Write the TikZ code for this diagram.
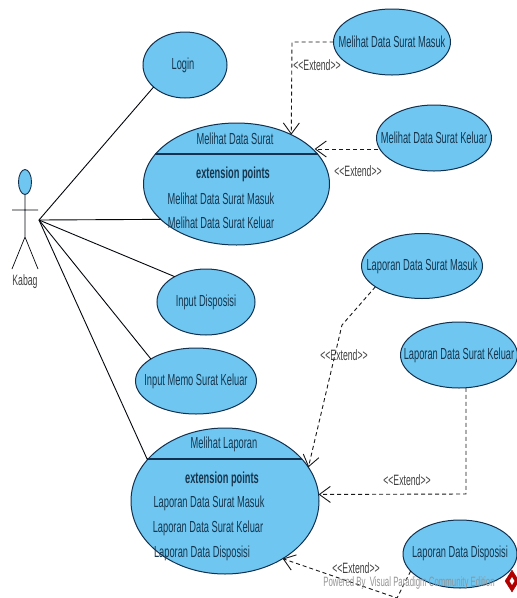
\documentclass[tikz,border=0pt]{standalone}
\usepackage{fontspec}
\setmainfont[FakeStretch=0.58]{Liberation Sans}
\usetikzlibrary{arrows.meta,shapes.geometric}
\definecolor{ucfill}{HTML}{6FC6F0}
\definecolor{ucline}{HTML}{12304F}
\definecolor{uctext}{HTML}{16364F}
\tikzset{
  uc/.style={draw=ucline,fill=ucfill,ellipse,line width=1pt,inner sep=0pt,outer sep=0pt},
  lbl/.style={text=uctext,inner sep=0pt,font=\fontsize{16}{18}\selectfont},
  assoc/.style={draw=black!85!ucline,line width=0.9pt},
  ext/.style={draw=black!90,line width=0.9pt,dash pattern=on 4pt off 3pt,-{Straight Barb[length=11pt,width=16pt]}},
  extlbl/.style={text=black!75,inner sep=0pt,font=\fontsize{15}{17}\selectfont},
}
\begin{document}
\begin{tikzpicture}[x=1pt,y=-1pt]
\useasboundingbox[fill=white] (0,0) rectangle (517,598);
% use cases
\node[uc,minimum width=84pt,minimum height=66pt] (login) at (185,65) {};
\node[uc,minimum width=186pt,minimum height=122pt] (mds) at (236.5,184) {};
\node[uc,minimum width=117pt,minimum height=66pt] (mdsm) at (392,42) {};
\node[uc,minimum width=115pt,minimum height=66pt] (mdsk) at (434,138) {};
\node[uc,minimum width=121pt,minimum height=65pt] (ldsm) at (422,266) {};
\node[uc,minimum width=117pt,minimum height=66pt] (ldsk) at (459,355) {};
\node[uc,minimum width=98pt,minimum height=66pt] (idisp) at (206,302) {};
\node[uc,minimum width=121pt,minimum height=66pt] (imemo) at (196,381) {};
\node[uc,minimum width=188pt,minimum height=146pt] (ml) at (225,501) {};
\node[uc,minimum width=114pt,minimum height=68pt] (ldd) at (460,554) {};
% names
\node[lbl] (n1) at (183,65) {Login};
\node[lbl] (n2) at (392,42) {Melihat Data Surat Masuk};
\node[lbl] (n3) at (434,138) {Melihat Data Surat Keluar};
\node[lbl] (n4) at (422,266) {Laporan Data Surat Masuk};
\node[lbl] (n5) at (459,355) {Laporan Data Surat Keluar};
\node[lbl] (n6) at (206,302) {Input Disposisi};
\node[lbl] (n7) at (196,381) {Input Memo Surat Keluar};
\node[lbl] (n8) at (460,553) {Laporan Data Disposisi};
% compartments
\coordinate (c1l) at (155,154);
\coordinate (c1r) at (318,154);
\coordinate (c2l) at (147,459);
\coordinate (c2r) at (302,459);
\draw[ucline,line width=1.1pt] (c1l) -- (c1r);
\draw[ucline,line width=1.1pt] (c2l) -- (c2r);
\node[lbl] (t1) at (235,139) {Melihat Data Surat};
\node[lbl,font=\fontsize{16}{18}\selectfont\bfseries] (t2) at (233,174) {extension points};
\node[lbl] (t3) at (221,199) {Melihat Data Surat Masuk};
\node[lbl] (t4) at (221,223) {Melihat Data Surat Keluar};
\node[lbl] (t5) at (224,444) {Melihat Laporan};
\node[lbl,font=\fontsize{16}{18}\selectfont\bfseries] (t6) at (222,479) {extension points};
\node[lbl] (t7) at (209,503) {Laporan Data Surat Masuk};
\node[lbl] (t8) at (208,528) {Laporan Data Surat Keluar};
\node[lbl] (t9) at (202,553) {Laporan Data Disposisi};
% actor
\node[draw=ucline,fill=ucfill,ellipse,line width=0.9pt,minimum width=13pt,minimum height=25pt,inner sep=0pt] (head) at (25,182) {};
\coordinate (neck) at (25,237);
\coordinate (arml) at (12,210);
\coordinate (armr) at (38,210);
\coordinate (footl) at (12,269);
\coordinate (footr) at (38,269);
\coordinate (hand) at (39,220);
\draw[assoc,line width=0.7pt] (head.south) -- (neck) (arml) -- (armr) (footl) -- (neck) -- (footr);
\node[text=black!75,inner sep=0pt,font=\fontsize{15}{17}\selectfont] (kabag) at (25,282) {Kabag};
% associations
\draw[assoc] (hand) -- (login.215);
\draw[assoc] (hand) -- (mds.205.6);
\draw[assoc] (hand) -- (idisp.141.5);
\draw[assoc] (hand) -- (imemo.154.5);
\draw[assoc] (hand) -- (ml.152.3);
% extends
\coordinate (ka) at (378,149);
\draw[ext] (mdsm.west) -- (292,42) -- (mds.42.6);
\draw[ext] (ka) -- (ka -| mds.23.8);
\draw[ext] (ldsm.204.8) -- (342,325) -- (ml.22);
\draw[ext] (ldsk.282) -- (466,494) -- (ml.4.3);
\coordinate (offb) at (397,598);
\draw[ext] (ldd.199) -- (offb) -- (ml.-45.5);
\node[extlbl] (e1) at (317,65) {<{}<Extend>{}>};
\node[extlbl] (e2) at (358,171) {<{}<Extend>{}>};
\node[extlbl] (e3) at (344,355) {<{}<Extend>{}>};
\node[extlbl] (e4) at (407,480) {<{}<Extend>{}>};
\node[extlbl] (e5) at (356,568) {<{}<Extend>{}>};
% watermark
\node[text=black!42,inner sep=0pt,font=\fontsize{13.5}{15}\selectfont] (wm) at (409,583) {Powered By\ \ Visual Paradigm Community Edition};
\node[diamond,fill=red!70!black,draw=red!70!black,inner sep=0pt,minimum width=14pt,minimum height=22pt] (logo) at (512,581) {};
\node[diamond,fill=white,inner sep=0pt,minimum width=5pt,minimum height=8pt] (logoin) at (512,581) {};
\end{tikzpicture}
\end{document}
